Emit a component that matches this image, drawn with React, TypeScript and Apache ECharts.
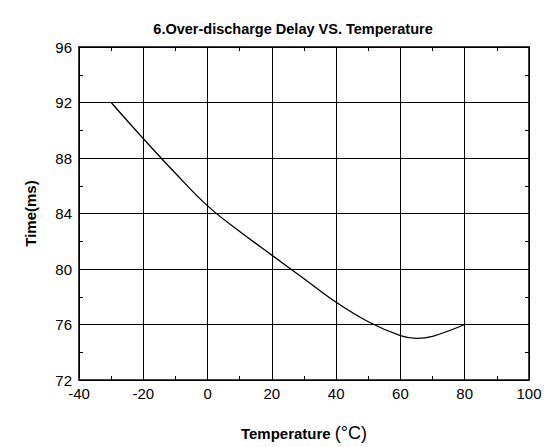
import React, { useEffect, useRef } from "react";
import * as echarts from "echarts";

const temperatures = [-30, -20, -10, 0, 10, 20, 30, 40, 50, 60, 65, 70, 80];
const delays = [92, 89.4, 86.9, 84.55, 82.7, 81.0, 79.3, 77.6, 76.2, 75.2, 75.0, 75.15, 76.0];
const xTicks = { min: -40, max: 100, interval: 20 };
const yTicks = { min: 72, max: 96, interval: 4 };

const FONT = "'Liberation Sans', Arial, sans-serif";

export default function App() {
  const ref = useRef<HTMLDivElement>(null);
  useEffect(() => {
    if (!ref.current) return;
    const chart = echarts.init(ref.current, undefined, { renderer: "svg" });
    const black = "#000";
    const common = {
      axisLine: { show: true, onZero: false, lineStyle: { color: black, width: 1.5 } },
      axisTick: { show: true, inside: true, length: 4, lineStyle: { color: black } },
      minorTick: { show: true, splitNumber: 2, length: 4, lineStyle: { color: black } },
    };
    chart.setOption({
      animation: false,
      backgroundColor: "#fff",
      title: {
        text: "6.Over-discharge Delay VS. Temperature",
        left: 288,
        top: 16,
        textAlign: "center",
        textStyle: { fontFamily: FONT, fontSize: 14.5, fontWeight: "bold", color: black },
      },
      grid: { left: 79, right: 20, top: 47, bottom: 64 },
      xAxis: [
        {
          type: "value",
          min: xTicks.min,
          max: xTicks.max,
          interval: xTicks.interval,
          position: "bottom",
          ...common,
          axisLabel: { color: black, fontFamily: FONT, fontSize: 15, margin: 6 },
          splitLine: { show: true, lineStyle: { color: black, width: 1 } },
          name: "{a|Temperature }{b|(°C)}",
          nameLocation: "middle",
          nameGap: 44,
          nameTextStyle: {
            rich: {
              a: { fontFamily: FONT, fontSize: 15, fontWeight: "bold", color: black },
              b: { fontFamily: FONT, fontSize: 18, color: black },
            },
          },
        },
        {
          type: "value",
          min: xTicks.min,
          max: xTicks.max,
          interval: xTicks.interval,
          position: "top",
          ...common,
          axisLabel: { show: false },
          splitLine: { show: false },
        },
      ],
      yAxis: [
        {
          type: "value",
          min: yTicks.min,
          max: yTicks.max,
          interval: yTicks.interval,
          position: "left",
          ...common,
          axisLabel: { color: black, fontFamily: FONT, fontSize: 15, margin: 7 },
          splitLine: { show: true, lineStyle: { color: black, width: 1 } },
          name: "Time(ms)",
          nameLocation: "middle",
          nameGap: 41,
          nameRotate: 90,
          nameTextStyle: { fontFamily: FONT, fontSize: 15, fontWeight: "bold", color: black },
        },
        {
          type: "value",
          min: yTicks.min,
          max: yTicks.max,
          interval: yTicks.interval,
          position: "right",
          ...common,
          axisLabel: { show: false },
          splitLine: { show: false },
        },
      ],
      series: [
        {
          type: "line",
          data: temperatures.map((t, i) => [t, delays[i]]),
          smooth: 0.4,
          showSymbol: false,
          lineStyle: { color: black, width: 1.3 },
        },
      ],
    });
    return () => chart.dispose();
  }, []);
  return (
    <div
      ref={ref}
      style={{ position: "fixed", left: 0, top: 0, width: 549, height: 447 }}
    />
  );
}
